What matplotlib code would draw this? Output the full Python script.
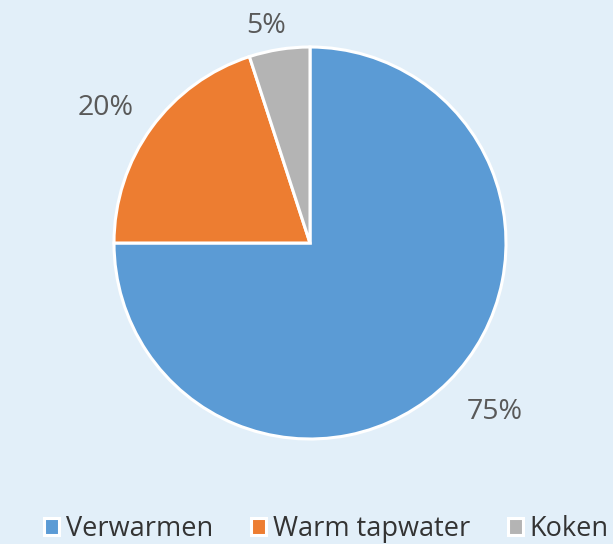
import matplotlib.pyplot as plt
import numpy as np

# data
categories = ["Verwarmen", "Warm tapwater", "Koken"]
shares = [75, 20, 5]
colors = ["#5B9BD5", "#ED7D31", "#B4B4B4"]

bg = "#E2EFF9"
text_grey = "#595959"

plt.rcParams['font.family'] = ['Open Sans', 'DejaVu Sans']

fig = plt.figure(figsize=(6.13, 5.44), dpi=100, facecolor=bg)
ax = fig.add_axes([114 / 613, 105 / 544, 392 / 613, 392 / 544])
ax.set_facecolor(bg)

wedges, texts = ax.pie(shares, colors=colors, startangle=90, counterclock=False,
                       wedgeprops=dict(edgecolor="white", linewidth=2.2),
                       radius=1)
ax.set_xlim(-1, 1)
ax.set_ylim(-1, 1)
ax.set_aspect("equal")
ax.axis("off")

# percentage labels outside the wedges, placed near each wedge's mid angle
label_dist = [1.28, 1.25, 1.13]
for w, val, d in zip(wedges, shares, label_dist):
    ang = np.deg2rad((w.theta1 + w.theta2) / 2 + 2.5)
    ax.text(d * np.cos(ang), d * np.sin(ang), f"{val}%", ha="center", va="center",
            fontsize=20.5, color=text_grey, clip_on=False)

# legend
fig.legend(wedges, categories, loc="lower center", bbox_to_anchor=(0.533, -0.043),
           ncol=3, frameon=False, fontsize=19.5, labelcolor="#333333",
           handlelength=0.55, handleheight=0.55, handletextpad=0.25, columnspacing=1.4)

plt.savefig("out.png", dpi=100, facecolor=bg)
